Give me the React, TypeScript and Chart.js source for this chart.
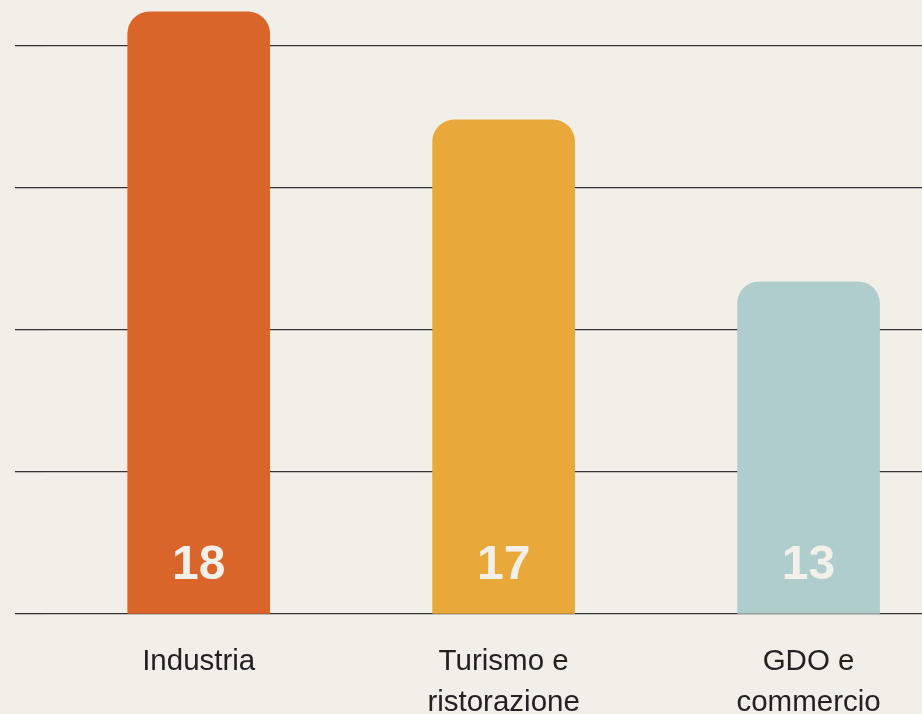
import React, { useEffect, useRef } from "react";
import { Chart, registerables } from "chart.js";

Chart.register(...registerables);

// Data
const categories: string[][] = [["Industria"], ["Turismo e", "ristorazione"], ["GDO e", "commercio"]];
const barValues: number[] = [42.4, 34.8, 23.4];
const valueLabels: string[] = ["18", "17", "13"];
const yTicks: number[] = [0, 10, 20, 30, 40];
const barColors: string[] = ["#D9652B", "#E8A93A", "#AECDCC"];

const FONT = "'Liberation Sans', Arial, Helvetica, sans-serif";

const valueLabelPlugin = {
  id: "valueLabels",
  afterDatasetsDraw(chart: any) {
    const { ctx } = chart;
    const meta = chart.getDatasetMeta(0);
    const base = chart.scales.y.getPixelForValue(0);
    ctx.save();
    ctx.font = `bold 48px ${FONT}`;
    ctx.textAlign = "center";
    ctx.textBaseline = "alphabetic";
    ctx.fillStyle = "#F3F0EA";
    meta.data.forEach((bar: any, i: number) => {
      ctx.fillText(valueLabels[i], bar.x, base - 35);
    });
    ctx.restore();
  },
};

export default function App() {
  const canvasRef = useRef<HTMLCanvasElement | null>(null);

  useEffect(() => {
    if (!canvasRef.current) return;
    const chart = new Chart(canvasRef.current, {
      type: "bar",
      data: {
        labels: categories as any,
        datasets: [
          {
            data: barValues,
            backgroundColor: barColors,
            borderWidth: 0,
            borderRadius: 22,
            borderSkipped: "start",
            barThickness: 142,
          },
        ],
      },
      options: {
        responsive: false,
        animation: false,
        layout: { padding: { left: 15, right: 0, top: 3.4, bottom: 0 } },
        plugins: {
          legend: { display: false },
          tooltip: { enabled: false },
        },
        scales: {
          x: {
            afterFit: (s: any) => {
              s.height = 100;
            },
            grid: { display: false, drawTicks: false },
            border: { display: false },
            ticks: {
              color: "#222222",
              font: { family: FONT, size: 29.5, lineHeight: "41px" as any },
              padding: 27.5,
              maxRotation: 0,
              minRotation: 0,
              autoSkip: false,
            },
          },
          y: {
            min: 0,
            max: 43,
            afterBuildTicks: (s: any) => {
              s.ticks = yTicks.map((v) => ({ value: v }));
            },
            afterFit: (s: any) => {
              s.width = 31.25;
            },
            ticks: { display: false },
            border: { display: false },
            grid: {
              color: "#333333",
              lineWidth: 1.3,
              drawTicks: true,
              tickLength: 31.25,
            },
          },
        },
      },
      plugins: [valueLabelPlugin],
    });
    return () => chart.destroy();
  }, []);

  return (
    <div
      style={{
        position: "absolute",
        left: 0,
        top: 0,
        width: 922,
        height: 714,
        overflow: "hidden",
        background: "#F2EFE9",
      }}
    >
      <canvas ref={canvasRef} width={961} height={714} style={{ display: "block", width: 961, height: 714 }} />
    </div>
  );
}
